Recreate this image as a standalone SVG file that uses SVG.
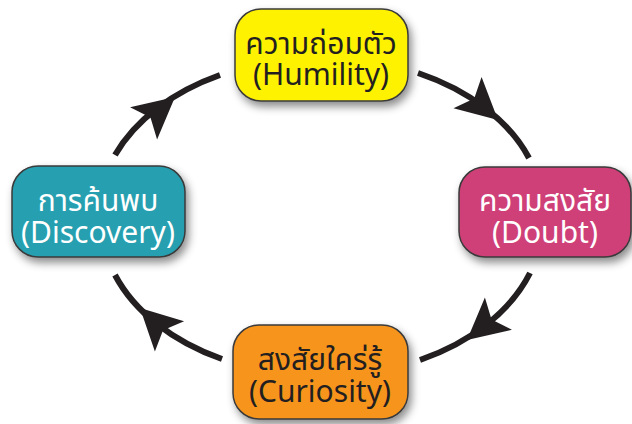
<svg xmlns="http://www.w3.org/2000/svg" xmlns:xlink="http://www.w3.org/1999/xlink" width="632" height="424" viewBox="0 0 632 424">
<defs>
<filter id="sh" x="-20%" y="-20%" width="150%" height="160%">
<feDropShadow dx="3" dy="5" stdDeviation="4" flood-color="#000" flood-opacity="0.45"/>
</filter>
<path id="ah" d="M0,0 L-41,-21 L-32,0 L-41,21 Z" fill="#231f20"/>
<style>
.box{stroke:#3a3a3a;stroke-width:1.5;filter:url(#sh)}
.t{font-family:"Noto Sans Thai","Noto Sans","Open Sans",sans-serif;font-size:30px;text-anchor:middle}
.th{font-size:30px}
.dk{fill:#231f20}
.lt{fill:#ffffff}
.arc{fill:none;stroke:#231f20;stroke-width:6}
</style>
</defs>
<g id="connectors">
<path class="arc" d="M418,73 A221,154 0 0 1 529,158"/>
<path class="arc" d="M530,273 A221,154 0 0 1 420,360"/>
<path class="arc" d="M222,359 A221,154 0 0 1 115,275"/>
<path class="arc" d="M115,155 A221,154 0 0 1 220,75"/>
<use xlink:href="#ah" transform="translate(498,120) rotate(42)"/>
<use xlink:href="#ah" transform="translate(467,340) rotate(140)"/>
<use xlink:href="#ah" transform="translate(140,308) rotate(224)"/>
<use xlink:href="#ah" transform="translate(175,97) rotate(-40)"/>
</g>
<g id="humility">
<rect class="box" x="235" y="9" width="173" height="92" rx="26" fill="#fff200"/>
<text class="t th dk" x="321" y="54">ความถ่อมตัว</text>
<text class="t dk" x="321" y="85">(Humility)</text>
</g>
<g id="doubt">
<rect class="box" x="459" y="167" width="172" height="90" rx="26" fill="#cf3f78"/>
<text class="t th lt" x="545" y="211">ความสงสัย</text>
<text class="t lt" x="545" y="243">(Doubt)</text>
</g>
<g id="curiosity">
<rect class="box" x="233" y="325" width="175" height="94" rx="26" fill="#f7941d"/>
<text class="t th dk" x="320" y="370">สงสัยใคร่รู้</text>
<text class="t dk" x="320" y="402">(Curiosity)</text>
</g>
<g id="discovery">
<rect class="box" x="12" y="166" width="173" height="91" rx="26" fill="#25a0b0"/>
<text class="t th lt" x="98" y="211">การค้นพบ</text>
<text class="t lt" x="98" y="243">(Discovery)</text>
</g>
</svg>
